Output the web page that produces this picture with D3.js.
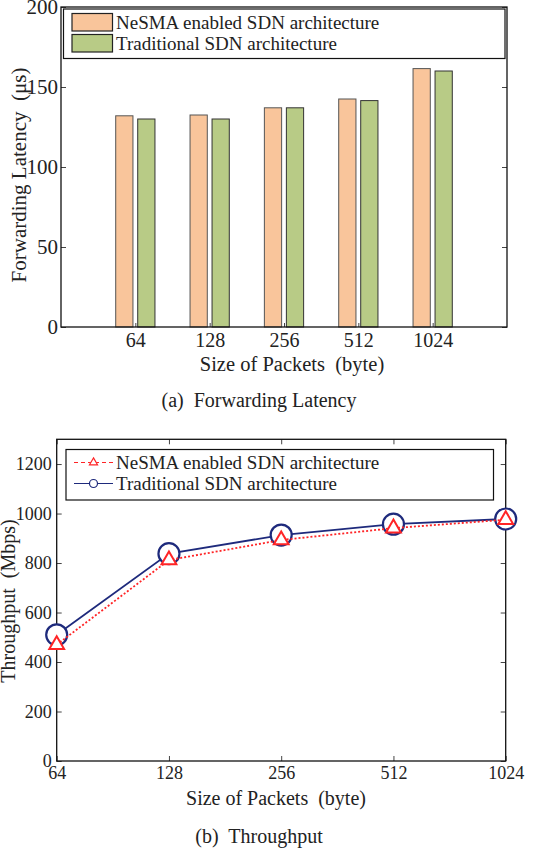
<!DOCTYPE html>
<html><head><meta charset="utf-8">
<script src="https://cdn.jsdelivr.net/npm/d3@7"></script>
<style>
body{margin:0;background:#fff;}
svg{display:block;}
</style></head>
<body>
<svg id="c" width="533" height="852"></svg>
<script>
// ---- data ----
const categories = ["64", "128", "256", "512", "1024"];
const latencyNeSMA = [132, 132.5, 137, 142.5, 161.5];
const latencyTraditional = [130, 130, 137, 141.5, 160];
const latencyTicks = [0, 50, 100, 150, 200];
const packetSizes = [64, 128, 256, 512, 1024];
const throughputNeSMA = [470, 812, 893, 941, 975];
const throughputTraditional = [510, 838, 913, 957, 978];
const throughputTicks = [0, 200, 400, 600, 800, 1000, 1200];
const seriesNames = ["NeSMA enabled SDN architecture", "Traditional SDN architecture"];

const svg = d3.select("#c");
const FS = 19;
const FF = '"Liberation Serif"';

// ================= chart (a) =================
{
  const L = 61, R = 507, T = 7, B = 327;
  const x = d3.scaleLinear().domain([0, 6]).range([L, R]);
  const y = d3.scaleLinear().domain([0, 200]).range([B, T]);
  const g = svg.append("g");
  const bw = 0.232, off = 0.148;

  const colors = ["#F9C59B", "#B8CB86"];
  [latencyNeSMA, latencyTraditional].forEach((vals, s) => {
    g.selectAll(null).data(vals).enter().append("rect")
      .attr("x", (d, i) => x(i + 1 + (s === 0 ? -off : off) - bw / 2))
      .attr("width", x(bw) - x(0))
      .attr("y", d => y(d))
      .attr("height", d => y(0) - y(d))
      .attr("fill", colors[s])
      .attr("stroke", s === 0 ? "#555" : "#333")
      .attr("stroke-width", 1);
  });

  const yl = d3.axisLeft(y).tickValues(latencyTicks).tickSize(-5).tickPadding(3);
  const ya = g.append("g").attr("transform", `translate(${L},0)`).call(yl);
  const yr = d3.axisRight(y).tickValues(latencyTicks).tickSize(-5).tickFormat("");
  g.append("g").attr("transform", `translate(${R},0)`).call(yr);
  const xl = d3.axisBottom(x).tickValues([1, 2, 3, 4, 5]).tickSize(-4).tickPadding(6)
    .tickFormat((d) => categories[d - 1]);
  const xa = g.append("g").attr("transform", `translate(0,${B})`).call(xl);
  ya.selectAll("text").attr("font-size", 21);
  xa.selectAll("text").attr("font-size", 20);
  g.selectAll(".domain").remove();
  g.selectAll(".tick line").attr("stroke", "#444");
  g.append("rect").attr("x", L).attr("y", T).attr("width", R - L).attr("height", B - T)
    .attr("fill", "none").attr("stroke", "#111").attr("stroke-width", 1.3);

  g.append("rect").attr("x", 63.5).attr("y", 9).attr("width", 441.5).attr("height", 49.5)
    .attr("fill", "#fff").attr("stroke", "#111").attr("stroke-width", 1.2);
  seriesNames.forEach((n, i) => {
    const yy = 13.5 + i * 21;
    g.append("rect").attr("x", 72).attr("y", yy).attr("width", 40.5).attr("height", 17.5)
      .attr("fill", colors[i]).attr("stroke", "#222").attr("stroke-width", 1.2);
    g.append("text").attr("x", 116).attr("y", yy + 9).attr("dominant-baseline", "central")
      .attr("font-size", FS).text(n);
  });

  g.append("text").attr("transform", `translate(19,175) rotate(-90)`)
    .attr("text-anchor", "middle").attr("dominant-baseline", "central")
    .attr("font-size", 21).style("white-space", "pre").text("Forwarding Latency  (μs)");
  g.append("text").attr("x", 292).attr("y", 364).attr("text-anchor", "middle")
    .attr("dominant-baseline", "central").attr("font-size", 20.5).style("white-space", "pre")
    .text("Size of Packets  (byte)");
  g.append("text").attr("x", 259).attr("y", 400).attr("text-anchor", "middle")
    .attr("dominant-baseline", "central").attr("font-size", 20).style("white-space", "pre")
    .text("(a)  Forwarding Latency");
}

// ================= chart (b) =================
{
  const L = 56.7, R = 505.7, T = 439.3, B = 761;
  const x = d3.scaleLog().base(2).domain([64, 1024]).range([L, R]);
  const y = d3.scaleLinear().domain([0, 1300]).range([B, T]);
  const g = svg.append("g");
  const navy = "#1E2A7C", red = "#FF2426";

  const yl = d3.axisLeft(y).tickValues(throughputTicks).tickSize(-5).tickPadding(5)
    .tickFormat(d3.format("d"));
  const ya = g.append("g").attr("transform", `translate(${L},0)`).call(yl);
  g.append("g").attr("transform", `translate(${R},0)`)
    .call(d3.axisRight(y).tickValues(throughputTicks).tickSize(-5).tickFormat(""));
  const xa = g.append("g").attr("transform", `translate(0,${B})`)
    .call(d3.axisBottom(x).tickValues(packetSizes).tickSize(-5).tickPadding(5).tickFormat(d3.format("d")));
  g.append("g").attr("transform", `translate(0,${T})`)
    .call(d3.axisTop(x).tickValues(packetSizes).tickSize(-5).tickFormat(""));
  [ya, xa].forEach(a => { a.selectAll("text").attr("font-size", 18); });
  g.selectAll(".domain").remove();
  g.selectAll(".tick line").attr("stroke", "#444");
  g.append("rect").attr("x", L).attr("y", T).attr("width", R - L).attr("height", B - T)
    .attr("fill", "none").attr("stroke", "#111").attr("stroke-width", 1.3);

  const line = d3.line().x((d, i) => x(packetSizes[i])).y(d => y(d));
  g.append("path").datum(throughputTraditional).attr("d", line)
    .attr("fill", "none").attr("stroke", navy).attr("stroke-width", 1.8);
  g.selectAll(null).data(throughputTraditional).enter().append("circle")
    .attr("cx", (d, i) => x(packetSizes[i])).attr("cy", d => y(d)).attr("r", 10.5)
    .attr("fill", "#fff").attr("stroke", navy).attr("stroke-width", 2.2);
  g.append("path").datum(throughputNeSMA).attr("d", line)
    .attr("fill", "none").attr("stroke", red).attr("stroke-width", 1.8)
    .attr("stroke-dasharray", "2,2");
  const tri = d3.symbol().type(d3.symbolTriangle).size(95);
  g.selectAll(null).data(throughputNeSMA).enter().append("path")
    .attr("d", tri)
    .attr("transform", (d, i) => `translate(${x(packetSizes[i])},${y(d)})`)
    .attr("fill", "#fff").attr("stroke", red).attr("stroke-width", 2);

  g.append("rect").attr("x", 66).attr("y", 449.5).attr("width", 427.5).attr("height", 50.5)
    .attr("fill", "#fff").attr("stroke", "#111").attr("stroke-width", 1.2);
  const ly = [462.5, 483.5];
  g.append("line").attr("x1", 74).attr("x2", 113).attr("y1", ly[0]).attr("y2", ly[0])
    .attr("stroke", red).attr("stroke-width", 1.2).attr("stroke-dasharray", "4,3");
  g.append("path").attr("d", d3.symbol().type(d3.symbolTriangle).size(28))
    .attr("transform", `translate(93.5,${ly[0]})`).attr("fill", "#fff")
    .attr("stroke", red).attr("stroke-width", 1.2);
  g.append("line").attr("x1", 74).attr("x2", 113).attr("y1", ly[1]).attr("y2", ly[1])
    .attr("stroke", navy).attr("stroke-width", 1.2);
  g.append("circle").attr("cx", 93.5).attr("cy", ly[1]).attr("r", 4)
    .attr("fill", "#fff").attr("stroke", navy).attr("stroke-width", 1.2);
  seriesNames.forEach((n, i) => {
    g.append("text").attr("x", 116).attr("y", ly[i]).attr("dominant-baseline", "central")
      .attr("font-size", FS).text(n);
  });

  g.append("text").attr("transform", `translate(8,601) rotate(-90)`)
    .attr("text-anchor", "middle").attr("dominant-baseline", "central")
    .attr("font-size", 20).style("white-space", "pre").text("Throughput  (Mbps)");
  g.append("text").attr("x", 276).attr("y", 798).attr("text-anchor", "middle")
    .attr("dominant-baseline", "central").attr("font-size", 20).style("white-space", "pre")
    .text("Size of Packets  (byte)");
  g.append("text").attr("x", 259).attr("y", 836).attr("text-anchor", "middle")
    .attr("dominant-baseline", "central").attr("font-size", 20).style("white-space", "pre")
    .text("(b)  Throughput");
}

svg.selectAll("text").style("font-family", FF).style("fill", "#222");
</script>
</body></html>
